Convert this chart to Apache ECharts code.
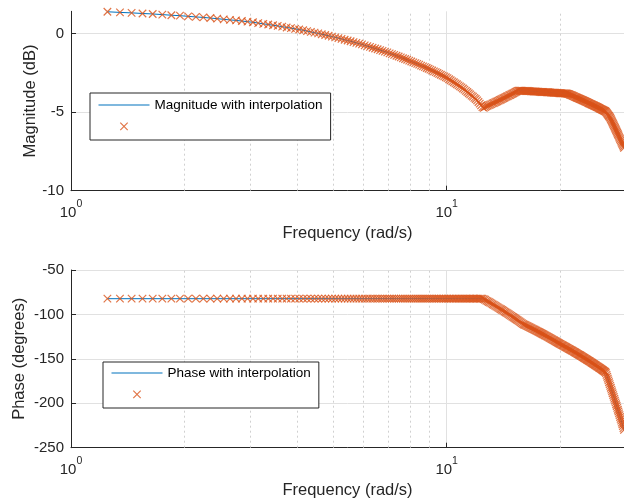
<!DOCTYPE html>
<html><head><meta charset="utf-8">
<script src="https://cdn.jsdelivr.net/npm/echarts@6/dist/echarts.min.js"></script>
<style>html,body{margin:0;padding:0;background:#fff}#chart{width:624px;height:504px}</style>
</head><body><div id="chart"></div>
<script>
// Frequencies (rad/s) of the plotted samples
const freq = [
 1.25,1.35,1.45,1.55,1.65,1.75,1.85,1.95,
 2.05,2.15,2.25,2.35,2.45,2.55,2.65,2.75,2.85,2.95,
 3.05,3.15,3.25,3.35,3.45,3.55,3.65,3.75,3.85,3.95,
 4.05,4.15,4.25,4.35,4.45,4.55,4.65,4.75,4.85,4.95,
 5.05,5.15,5.25,5.35,5.45,5.55,5.65,5.75,5.85,5.95,
 6.05,6.15,6.25,6.35,6.45,6.55,6.65,6.75,6.85,6.95,
 7.05,7.15,7.25,7.35,7.45,7.55,7.65,7.75,7.85,7.95,
 8.05,8.15,8.25,8.35,8.45,8.55,8.65,8.75,8.85,8.95,
 9.05,9.15,9.25,9.35,9.45,9.55,9.65,9.75,9.85,9.95,
 10.05,10.15,10.25,10.35,10.45,10.55,10.65,10.75,10.85,10.95,
 11.05,11.15,11.25,11.35,11.45,11.55,11.65,11.75,11.85,11.95,
 12.05,12.15,12.25,12.35,12.45,12.55,12.65,12.75,12.85,12.95,
 13.05,13.15,13.25,13.35,13.45,13.55,13.65,13.75,13.85,13.95,
 14.05,14.15,14.25,14.35,14.45,14.55,14.65,14.75,14.85,14.95,
 15.05,15.15,15.25,15.35,15.45,15.55,15.65,15.75,15.85,15.95,
 16.05,16.15,16.25,16.35,16.45,16.55,16.65,16.75,16.85,16.95,
 17.05,17.15,17.25,17.35,17.45,17.55,17.65,17.75,17.85,17.95,
 18.05,18.15,18.25,18.35,18.45,18.55,18.65,18.75,18.85,18.95,
 19.05,19.15,19.25,19.35,19.45,19.55,19.65,19.75,19.85,19.95,
 20.05,20.15,20.25,20.35,20.45,20.55,20.65,20.75,20.85,20.95,
 21.05,21.15,21.25,21.35,21.45,21.55,21.65,21.75,21.85,21.95,
 22.05,22.15,22.25,22.35,22.45,22.55,22.65,22.75,22.85,22.95,
 23.05,23.15,23.25,23.35,23.45,23.55,23.65,23.75,23.85,23.95,
 24.05,24.15,24.25,24.35,24.45,24.55,24.65,24.75,24.85,24.95,
 25.05,25.15,25.25,25.35,25.45,25.55,25.65,25.75,25.85,25.95,
 26.05,26.15,26.25,26.35,26.45,26.55,26.65,26.75,26.85,26.95,
 27.05,27.15,27.25,27.35,27.45,27.55,27.65,27.75,27.85,27.95,
 28.05,28.15,28.25,28.35,28.45,28.55,28.65,28.75,28.85,28.95,
 29.05,29.15,29.25,29.35,29.45,29.55,29.65,29.75
];
// Magnitude (dB)
const magDb = [
 1.40,1.36,1.33,1.29,1.26,1.22,1.18,1.15,
 1.11,1.07,1.04,1.00,0.96,0.92,0.88,0.85,0.81,0.77,
 0.73,0.68,0.63,0.59,0.54,0.50,0.45,0.40,0.36,0.31,
 0.27,0.22,0.17,0.12,0.07,0.02,-0.03,-0.08,-0.13,-0.18,
 -0.23,-0.28,-0.33,-0.38,-0.43,-0.48,-0.53,-0.58,-0.63,-0.68,
 -0.74,-0.79,-0.84,-0.89,-0.94,-0.99,-1.04,-1.09,-1.14,-1.19,
 -1.25,-1.30,-1.35,-1.40,-1.45,-1.51,-1.56,-1.61,-1.66,-1.71,
 -1.77,-1.82,-1.87,-1.92,-1.97,-2.03,-2.08,-2.13,-2.18,-2.23,
 -2.29,-2.34,-2.40,-2.45,-2.50,-2.56,-2.61,-2.67,-2.72,-2.77,
 -2.83,-2.90,-2.96,-3.03,-3.09,-3.16,-3.22,-3.29,-3.35,-3.42,
 -3.49,-3.56,-3.64,-3.71,-3.79,-3.86,-3.94,-4.01,-4.09,-4.16,
 -4.25,-4.35,-4.45,-4.56,-4.68,-4.72,-4.67,-4.63,-4.59,-4.55,
 -4.52,-4.48,-4.44,-4.41,-4.37,-4.33,-4.30,-4.26,-4.22,-4.19,
 -4.15,-4.11,-4.08,-4.04,-4.00,-3.97,-3.93,-3.90,-3.86,-3.82,
 -3.79,-3.75,-3.71,-3.68,-3.64,-3.62,-3.63,-3.63,-3.63,-3.64,
 -3.64,-3.64,-3.65,-3.65,-3.65,-3.66,-3.66,-3.67,-3.67,-3.67,
 -3.68,-3.68,-3.68,-3.69,-3.69,-3.69,-3.70,-3.70,-3.71,-3.71,
 -3.71,-3.72,-3.72,-3.72,-3.73,-3.73,-3.73,-3.74,-3.74,-3.75,
 -3.75,-3.75,-3.76,-3.76,-3.76,-3.77,-3.77,-3.77,-3.78,-3.78,
 -3.79,-3.79,-3.79,-3.80,-3.80,-3.80,-3.81,-3.81,-3.81,-3.82,
 -3.83,-3.85,-3.87,-3.89,-3.91,-3.93,-3.95,-3.97,-3.99,-4.02,
 -4.04,-4.06,-4.08,-4.10,-4.12,-4.14,-4.16,-4.18,-4.20,-4.22,
 -4.24,-4.26,-4.28,-4.30,-4.32,-4.34,-4.36,-4.39,-4.41,-4.43,
 -4.45,-4.47,-4.49,-4.51,-4.53,-4.55,-4.57,-4.59,-4.61,-4.63,
 -4.65,-4.67,-4.69,-4.71,-4.73,-4.76,-4.78,-4.80,-4.82,-4.84,
 -4.86,-4.88,-4.90,-4.92,-4.94,-4.98,-5.03,-5.08,-5.14,-5.19,
 -5.24,-5.30,-5.35,-5.43,-5.51,-5.59,-5.67,-5.75,-5.83,-5.91,
 -5.99,-6.07,-6.15,-6.23,-6.31,-6.39,-6.47,-6.55,-6.63,-6.71,
 -6.79,-6.87,-6.95,-7.03,-7.11,-7.19,-7.27,-7.35
];
// Phase (degrees)
const phaseDeg = [
 -82.3,-82.3,-82.3,-82.3,-82.3,-82.3,-82.3,-82.3,
 -82.3,-82.3,-82.3,-82.3,-82.3,-82.3,-82.3,-82.3,-82.3,-82.3,
 -82.3,-82.3,-82.3,-82.3,-82.3,-82.3,-82.3,-82.3,-82.3,-82.3,
 -82.3,-82.3,-82.3,-82.3,-82.3,-82.3,-82.3,-82.3,-82.3,-82.3,
 -82.3,-82.3,-82.3,-82.3,-82.3,-82.3,-82.3,-82.3,-82.3,-82.3,
 -82.3,-82.3,-82.3,-82.3,-82.3,-82.3,-82.3,-82.3,-82.3,-82.3,
 -82.3,-82.3,-82.3,-82.3,-82.3,-82.3,-82.3,-82.3,-82.3,-82.3,
 -82.3,-82.3,-82.3,-82.3,-82.3,-82.3,-82.3,-82.3,-82.3,-82.3,
 -82.3,-82.3,-82.3,-82.3,-82.3,-82.3,-82.3,-82.3,-82.3,-82.3,
 -82.3,-82.3,-82.3,-82.3,-82.3,-82.3,-82.3,-82.3,-82.3,-82.3,
 -82.3,-82.3,-82.3,-82.3,-82.3,-82.3,-82.3,-82.3,-82.3,-82.3,
 -82.3,-82.3,-82.3,-82.3,-82.3,-82.7,-83.5,-84.4,-85.2,-86.0,
 -86.8,-87.6,-88.5,-89.3,-90.1,-90.9,-91.7,-92.6,-93.4,-94.2,
 -95.0,-95.8,-96.7,-97.5,-98.3,-99.1,-99.9,-100.8,-101.6,-102.4,
 -103.2,-104.0,-104.9,-105.7,-106.5,-107.3,-108.1,-109.0,-109.8,-110.6,
 -111.3,-111.8,-112.4,-112.9,-113.5,-114.0,-114.6,-115.1,-115.7,-116.2,
 -116.8,-117.3,-117.9,-118.4,-119.0,-119.5,-120.1,-120.6,-121.2,-121.7,
 -122.3,-122.8,-123.4,-123.9,-124.5,-125.0,-125.6,-126.1,-126.7,-127.2,
 -127.8,-128.3,-128.9,-129.4,-130.0,-130.5,-131.1,-131.6,-132.2,-132.7,
 -133.2,-133.7,-134.2,-134.7,-135.2,-135.7,-136.2,-136.7,-137.2,-137.7,
 -138.2,-138.7,-139.2,-139.6,-140.1,-140.6,-141.1,-141.6,-142.1,-142.6,
 -143.1,-143.6,-144.1,-144.6,-145.1,-145.6,-146.0,-146.5,-147.0,-147.5,
 -148.0,-148.5,-149.0,-149.5,-150.0,-150.5,-151.0,-151.5,-152.0,-152.4,
 -152.9,-153.4,-153.9,-154.4,-154.9,-155.4,-155.9,-156.4,-156.9,-157.4,
 -157.9,-158.4,-158.8,-159.3,-159.8,-160.3,-160.8,-161.3,-161.8,-162.3,
 -162.8,-163.3,-163.8,-164.3,-164.8,-166.0,-168.1,-170.2,-172.2,-174.3,
 -176.3,-178.4,-180.5,-182.5,-184.6,-186.6,-188.7,-190.8,-192.8,-194.9,
 -197.0,-199.0,-201.1,-203.1,-205.2,-207.3,-209.3,-211.4,-213.4,-215.5,
 -217.6,-219.6,-221.7,-223.7,-225.8,-227.9,-229.9,-232.0
];
const xMinorTicks = [2, 3, 4, 5, 6, 7, 8, 9, 20];
const magNames = ['Magnitude with interpolation', 'Magnitude markers'];
const phaseNames = ['Phase with interpolation', 'Phase markers'];

const FONT = "'Liberation Sans', Arial, Helvetica, sans-serif";
const AX = '#262626';
const BLUE = '#0072BD';
const ORANGE = '#D95319';
const X_SYMBOL = 'path://M0,0L10,10M10,0L0,10';
const X_LEGEND = 'path://M0,0M51,14M21.8,3.2L29.2,10.6M29.2,3.2L21.8,10.6';
const LINE_LEGEND = 'path://M0,0M51,14M0,6.4L51,6.4L51,7.6L0,7.6Z';

function xAxisCfg(gi) {
  return {
    type: 'log', logBase: 10, gridIndex: gi, min: 1, max: 29.65,
    name: 'Frequency (rad/s)', nameLocation: 'middle', nameGap: 34,
    nameTextStyle: { fontSize: 16.5, color: AX, fontFamily: FONT },
    axisLine: { show: true, onZero: false, lineStyle: { color: AX, width: 1 } },
    axisTick: { show: true, inside: true, length: 5, lineStyle: { color: AX } },
    axisLabel: {
      showMaxLabel: false, margin: 8,
      formatter: v => '{b|10}{s|' + Math.round(Math.log10(v)) + '}',
      rich: {
        b: { fontSize: 15, lineHeight: 22, verticalAlign: 'bottom', color: AX, fontFamily: FONT },
        s: { fontSize: 10.5, lineHeight: 12, verticalAlign: 'top', color: AX, fontFamily: FONT }
      }
    },
    splitLine: { show: true, showMaxLine: false, lineStyle: { color: '#e1e1e1', width: 1 } },
    minorTick: { show: false }, minorSplitLine: { show: false }
  };
}
function yAxisCfg(gi, name, min, max, interval, gap, showMax) {
  return {
    type: 'value', gridIndex: gi, min: min, max: max, interval: interval,
    name: name, nameLocation: 'middle', nameGap: gap, nameMoveOverlap: false,
    nameTextStyle: { fontSize: 16.5, color: AX, fontFamily: FONT },
    axisLine: { show: true, onZero: false, lineStyle: { color: AX, width: 1 } },
    axisTick: { show: true, inside: true, length: 5, lineStyle: { color: AX } },
    axisLabel: { showMaxLabel: showMax, margin: 7, fontSize: 15, color: AX, fontFamily: FONT },
    splitLine: { show: true, showMaxLine: showMax, lineStyle: { color: '#e1e1e1', width: 1 } }
  };
}
function minorLines() {
  return {
    silent: true, symbol: ['none', 'none'], z: 1, animation: false,
    label: { show: false }, emphasis: { disabled: true },
    lineStyle: { type: [2, 3], color: '#d0d0d0', width: 1 },
    data: xMinorTicks.map(v => ({ xAxis: v }))
  };
}
function legendCfg(left, top, padding, names) {
  return {
    orient: 'vertical', left: left, top: top, padding: padding, itemGap: 5,
    itemWidth: 51, itemHeight: 14, borderColor: AX, borderWidth: 1, borderRadius: 0,
    backgroundColor: '#fff', selectedMode: false,
    textStyle: { fontSize: 13.5, color: '#000', fontFamily: FONT, lineHeight: 14 },
    formatter: n => (n.indexOf('markers') >= 0 ? '' : n),
    data: [
      { name: names[0], icon: LINE_LEGEND, itemStyle: { color: BLUE, borderWidth: 0 } },
      { name: names[1], icon: X_LEGEND, itemStyle: { color: 'none', borderColor: ORANGE, borderWidth: 1.2 } }
    ]
  };
}
const magPts = freq.map((f, i) => [f, magDb[i]]);
const phasePts = freq.map((f, i) => [f, phaseDeg[i]]);

const chart = echarts.init(document.getElementById('chart'), null, { renderer: 'canvas' });
chart.setOption({
  animation: false,
  backgroundColor: '#fff',
  textStyle: { fontFamily: FONT },
  grid: [
    { left: 71, right: 0, top: 11.3, height: 179.4, containLabel: false },
    { left: 71, right: 0, top: 270, height: 177.7, containLabel: false }
  ],
  xAxis: [xAxisCfg(0), xAxisCfg(1)],
  yAxis: [
    yAxisCfg(0, 'Magnitude (dB)', -10, 1.43, 5, 32, false),
    yAxisCfg(1, 'Phase (degrees)', -250, -50, 50, 43, true)
  ],
  legend: [
    legendCfg(90, 93, [5, 8, 4, 6], magNames),
    legendCfg(103, 362, [4, 8, 4, 6], phaseNames)
  ],
  series: [
    { name: magNames[0], type: 'line', xAxisIndex: 0, yAxisIndex: 0, data: magPts,
      symbol: 'none', showSymbol: false, z: 2, clip: true,
      lineStyle: { color: BLUE, width: 1 }, itemStyle: { color: BLUE },
      markLine: minorLines() },
    { name: magNames[1], type: 'scatter', xAxisIndex: 0, yAxisIndex: 0, data: magPts,
      symbol: X_SYMBOL, symbolSize: 7.5, z: 3, clip: true,
      itemStyle: { color: 'none', borderColor: ORANGE, borderWidth: 1.2 } },
    { name: phaseNames[0], type: 'line', xAxisIndex: 1, yAxisIndex: 1, data: phasePts,
      symbol: 'none', showSymbol: false, z: 2, clip: true,
      lineStyle: { color: BLUE, width: 1 }, itemStyle: { color: BLUE },
      markLine: minorLines() },
    { name: phaseNames[1], type: 'scatter', xAxisIndex: 1, yAxisIndex: 1, data: phasePts,
      symbol: X_SYMBOL, symbolSize: 7.5, z: 3, clip: true,
      itemStyle: { color: 'none', borderColor: ORANGE, borderWidth: 1.2 } }
  ]
});
</script></body></html>
